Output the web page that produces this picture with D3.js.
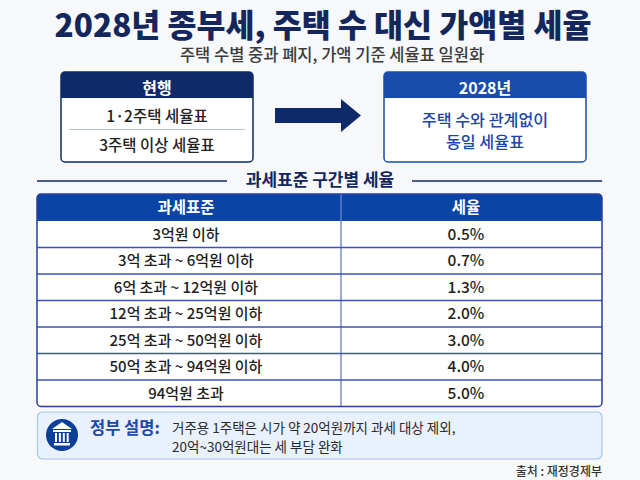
<!DOCTYPE html>
<html>
<head>
<meta charset="utf-8">
<script src="https://cdn.jsdelivr.net/npm/d3@7"></script>
<style>
  body { margin: 0; background: #f7f8fa; }
  svg { display: block; font-family: "Noto Sans CJK KR", "Noto Sans", sans-serif; }
</style>
</head>
<body>
<svg id="chart" width="640" height="480"></svg>
<script>
// data
const title = '2028년 종부세, 주택 수 대신 가액별 세율'
const subtitle = '주택 수별 중과 폐지, 가액 기준 세율표 일원화'
const currentItems = ['1·2주택 세율표', '3주택 이상 세율표']
const newItems = ['주택 수와 관계없이', '동일 세율표']
const columns = ['과세표준', '세율']
const brackets = [
  '3억원 이하',
  '3억 초과 ~ 6억원 이하',
  '6억 초과 ~ 12억원 이하',
  '12억 초과 ~ 25억원 이하',
  '25억 초과 ~ 50억원 이하',
  '50억 초과 ~ 94억원 이하',
  '94억원 초과'
]
const rates = [0.5, 0.7, 1.3, 2.0, 3.0, 4.0, 5.0]
const noteLines = ['거주용 1주택은 시가 약 20억원까지 과세 대상 제외,', '20억~30억원대는 세 부담 완화']

const navy = '#0f2a68'
const blue = '#0a45a6'
const svg = d3.select('#chart')

svg.append('rect').attr('width', 640).attr('height', 480).attr('fill', '#f7f8fa')

// Title
svg.append('text')
  .attr('x', 323).attr('y', 36.5)
  .attr('text-anchor', 'middle')
  .attr('font-size', 31.5).attr('font-weight', 900)
  .attr('fill', '#14275c')
  .text(title)

svg.append('text')
  .attr('x', 332).attr('y', 60.5)
  .attr('text-anchor', 'middle')
  .attr('font-size', 16.5).attr('font-weight', 500)
  .attr('fill', '#3c3c3c')
  .text(subtitle)

// Comparison boxes
const drawBox = (x, w, head, headColor, items, textColor, ys) => {
  const g = svg.append('g')
  g.append('rect')
    .attr('x', x).attr('y', 72).attr('width', w).attr('height', 90)
    .attr('rx', 4).attr('fill', '#fff')
    .attr('stroke', headColor).attr('stroke-width', 1.5)
  g.append('path')
    .attr('d', `M${x},98 V76 a4,4 0 0 1 4,-4 H${x + w - 4} a4,4 0 0 1 4,4 V98 Z`)
    .attr('fill', headColor)
  g.append('text')
    .attr('x', x + w / 2).attr('y', 88)
    .attr('dy', '0.35em')
    .attr('text-anchor', 'middle')
    .attr('font-size', 16).attr('font-weight', 700)
    .attr('fill', '#fff')
    .text(head)
  const y = d3.scalePoint().domain(items).range(ys)
  g.selectAll('text.item')
    .data(items)
    .enter()
    .append('text')
    .attr('class', 'item')
    .attr('x', x + w / 2)
    .attr('y', (d) => y(d))
    .attr('dy', '0.35em')
    .attr('text-anchor', 'middle')
    .attr('font-size', headColor === navy ? 15.5 : 16.2).attr('font-weight', 500)
    .attr('fill', textColor)
    .text((d) => d)
  return g
}
drawBox(61, 192, '현행', navy, currentItems, '#222', [117, 146])
  .append('line')
  .attr('x1', 69).attr('x2', 245)
  .attr('y1', 129.5).attr('y2', 129.5)
  .attr('stroke', '#b8c2d8').attr('stroke-width', 1)
drawBox(384, 202, '2028년', '#1a4cad', newItems, '#1c45a8', [120, 142])

// Arrow
svg.append('path')
  .attr('d', 'M275,108 H341 V99 L361,115.5 L341,132 V123 H275 Z')
  .attr('fill', navy)

// Section header
svg.append('text')
  .attr('x', 320).attr('y', 180)
  .attr('dy', '0.35em')
  .attr('text-anchor', 'middle')
  .attr('font-size', 17).attr('font-weight', 700)
  .attr('fill', '#14275c')
  .text('과세표준 구간별 세율')
svg.append('line').attr('x1', 37).attr('x2', 227).attr('y1', 181).attr('y2', 181)
  .attr('stroke', navy).attr('stroke-width', 1.5)
svg.append('line').attr('x1', 412).attr('x2', 602).attr('y1', 181).attr('y2', 181)
  .attr('stroke', navy).attr('stroke-width', 1.5)

// Table
const tx0 = 37
const tx1 = 602
const divX = 341
const colX = d3.scaleOrdinal().domain(columns).range([186, 466])
const rowY = d3.scaleBand().domain(d3.range(brackets.length)).range([221, 406.5])
const fmt = (v) => d3.format('.1f')(v) + '%'

const table = svg.append('g')
table.append('rect')
  .attr('x', tx0).attr('y', 194).attr('width', tx1 - tx0).attr('height', 406.5 - 194)
  .attr('rx', 4).attr('fill', '#fff')
table.append('path')
  .attr('d', `M${tx0},221 V198 a4,4 0 0 1 4,-4 H${tx1 - 4} a4,4 0 0 1 4,4 V221 Z`)
  .attr('fill', blue)
table.selectAll('text.head')
  .data(columns)
  .enter()
  .append('text')
  .attr('class', 'head')
  .attr('x', (d) => colX(d))
  .attr('y', 208)
  .attr('dy', '0.35em')
  .attr('text-anchor', 'middle')
  .attr('font-size', 15.5).attr('font-weight', 600)
  .attr('fill', '#fff')
  .text((d) => d)

table.selectAll('line.row')
  .data(d3.range(1, brackets.length))
  .enter()
  .append('line')
  .attr('class', 'row')
  .attr('x1', tx0).attr('x2', tx1)
  .attr('y1', (d) => rowY(d)).attr('y2', (d) => rowY(d))
  .attr('stroke', '#3c52b4').attr('stroke-width', 1.3)
table.append('line')
  .attr('x1', divX).attr('x2', divX).attr('y1', 194).attr('y2', 406.5)
  .attr('stroke', '#3c52b4').attr('stroke-width', 1)
table.append('line')
  .attr('x1', divX).attr('x2', divX).attr('y1', 194).attr('y2', 221)
  .attr('stroke', '#6f8fd8').attr('stroke-width', 1)
table.append('rect')
  .attr('x', tx0).attr('y', 194).attr('width', tx1 - tx0).attr('height', 406.5 - 194)
  .attr('rx', 4).attr('fill', 'none')
  .attr('stroke', '#2a3f9e').attr('stroke-width', 1.5)

const rows = table.selectAll('g.tr')
  .data(brackets)
  .enter()
  .append('g')
  .attr('class', 'tr')
  .attr('transform', (d, i) => `translate(0,${rowY(i) + rowY.bandwidth() / 2})`)
rows.append('text')
  .attr('x', colX(columns[0]))
  .attr('dy', '0.35em')
  .attr('text-anchor', 'middle')
  .attr('font-size', 15).attr('font-weight', 500)
  .attr('fill', '#1e1e1e')
  .text((d) => d)
rows.append('text')
  .attr('x', colX(columns[1]))
  .attr('dy', '0.35em')
  .attr('text-anchor', 'middle')
  .attr('font-size', 15.5).attr('font-weight', 500)
  .attr('fill', '#1e1e1e')
  .text((d, i) => fmt(rates[i]))

// Note box
const note = svg.append('g')
note.append('rect')
  .attr('x', 37.5).attr('y', 412).attr('width', 564.5).attr('height', 47)
  .attr('rx', 5).attr('fill', '#e9f1fc')
  .attr('stroke', '#a6c6f0').attr('stroke-width', 1.2)
note.append('circle').attr('cx', 62).attr('cy', 435).attr('r', 16).attr('fill', '#0b3f9a')
// simple building icon
note.append('path')
  .attr('d', 'M52,429 L62,422 L72,429 Z M53,430 H71 V432 H53 Z M54,443 H70 V445.5 H54 Z')
  .attr('fill', '#fff')
note.selectAll('rect.col')
  .data(d3.range(4))
  .enter()
  .append('rect')
  .attr('class', 'col')
  .attr('x', (d) => 55 + d * 3.9).attr('y', 433)
  .attr('width', 2).attr('height', 9)
  .attr('fill', '#fff')
note.append('text')
  .attr('x', 90).attr('y', 428)
  .attr('dy', '0.35em')
  .attr('font-size', 16.5).attr('font-weight', 700)
  .attr('fill', '#1c4aa5')
  .text('정부 설명:')
note.selectAll('text.line')
  .data(noteLines)
  .enter()
  .append('text')
  .attr('class', 'line')
  .attr('x', 172)
  .attr('y', (d, i) => 428 + i * 19)
  .attr('dy', '0.35em')
  .attr('font-size', 13.5).attr('font-weight', 400)
  .attr('fill', '#2a2a2a')
  .text((d) => d)

// Source
svg.append('text')
  .attr('x', 602).attr('y', 472)
  .attr('dy', '0.35em')
  .attr('text-anchor', 'end')
  .attr('font-size', 12).attr('font-weight', 500)
  .attr('fill', '#333')
  .text('출처 : 재정경제부')
</script>
</body>
</html>
